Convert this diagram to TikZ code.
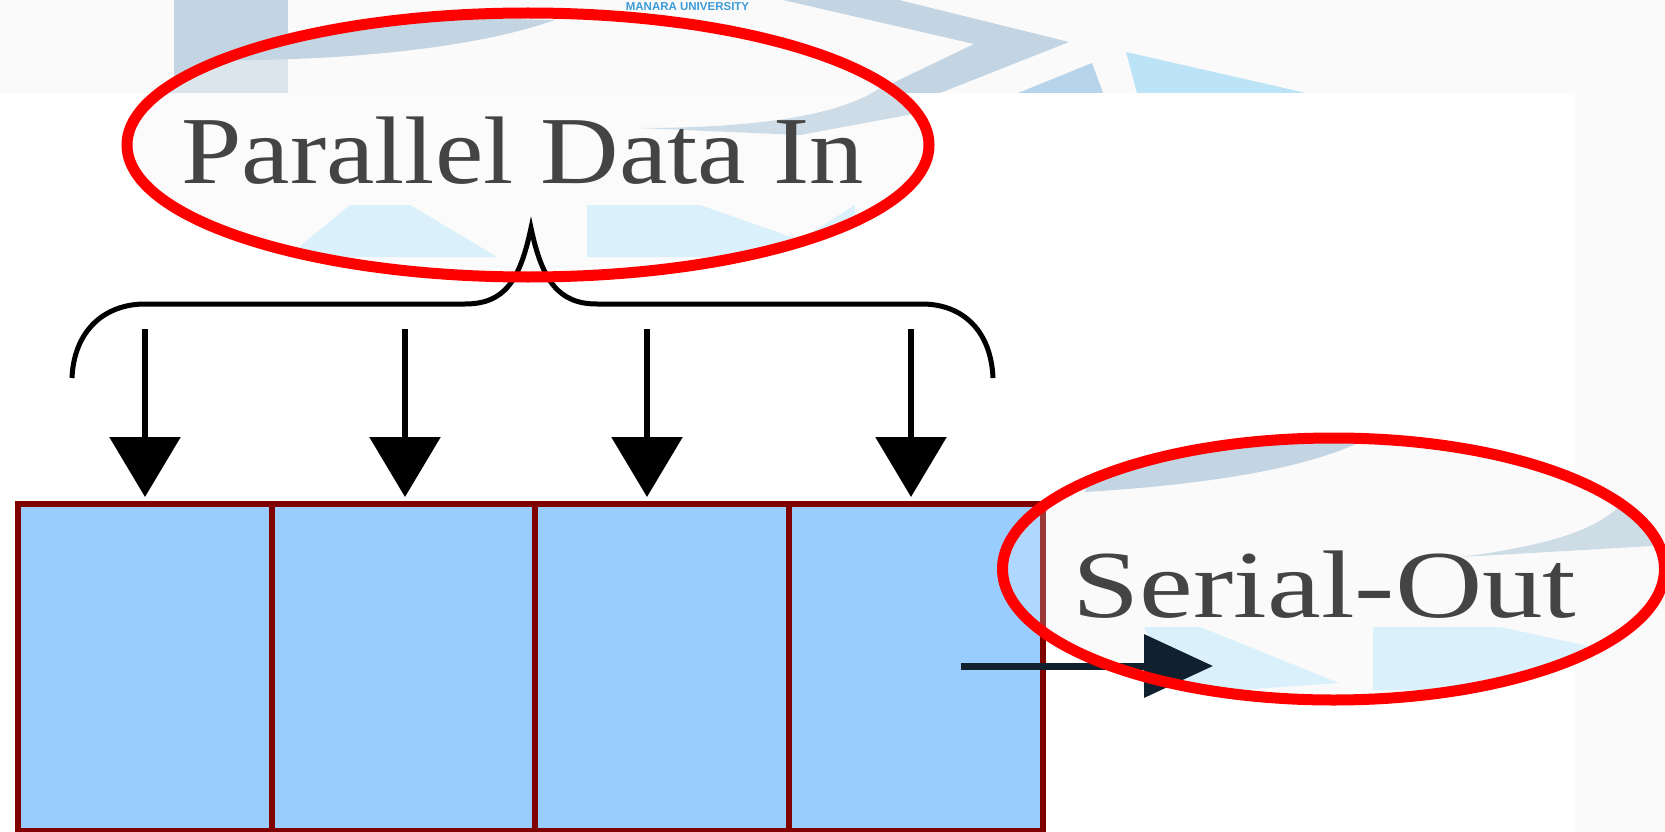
\documentclass[tikz,border=0pt]{standalone}
\usepackage{fontspec}
\setmainfont{Liberation Serif}
\newfontfamily\logofont{Liberation Sans}
\usetikzlibrary{arrows.meta,shapes.geometric}
\definecolor{bandgray}{HTML}{FAFAFA}
\definecolor{logoblue}{HTML}{C3D5E2}
\definecolor{logomid}{HTML}{B8D4EA}
\definecolor{logosky}{HTML}{BCE4F6}
\definecolor{logotext}{HTML}{3C9BD9}
\definecolor{inkgray}{HTML}{444444}
\definecolor{cellblue}{HTML}{99CCFF}
\definecolor{cellline}{HTML}{800000}
\definecolor{serialink}{HTML}{10202F}
\tikzset{
  x=1pt,y=-1pt,
  cellbox/.style={draw=cellline,line width=6.5pt,fill=cellblue,rectangle,minimum height=327pt,inner sep=0pt,outer sep=0pt},
  ring/.style={draw=red,line width=11pt,ellipse,inner sep=0pt,outer sep=0pt},
  caption/.style={text=inkgray,font=\fontsize{96}{96}\selectfont,anchor=base,inner sep=0pt},
  drop/.style={draw=black,line width=6pt,-{Triangle[length=60pt,width=70pt]}},
  brace/.style={draw=black,line width=5pt,line cap=butt},
  serial/.style={draw=serialink,line width=7pt,-{Triangle[length=69pt,width=62pt]}},
  pale/.style={fill=logosky!55!white}
}
\begin{document}
\begin{tikzpicture}
\useasboundingbox (0,0) rectangle (1665,832);
% page background
\fill[white] (0,0) rectangle (1665,832);
\fill[bandgray] (0,0) rectangle (1665,93);
\fill[bandgray] (1575,93) rectangle (1665,832);
% watermark pieces in the top band
\fill[logoblue] (174,0) rectangle (288,93);
\fill[logoblue] (783,0) -- (899,0) -- (1069,42) -- (940,93) -- (872,93) -- (974,44) -- cycle;
\fill[logomid] (1092,63) -- (1103,93) -- (1018,93) -- cycle;
\fill[logosky] (1126,52) -- (1306,93) -- (1137,93) -- cycle;
\node[inner sep=0pt,anchor=center,text=logotext] (brand) at (687.5,7)
  {\logofont\bfseries\fontsize{11.5}{12}\selectfont MANARA UNIVERSITY};
% register cells
\node[cellbox,minimum width=254pt] (c1) at (145,667.5) {};
\node[cellbox,minimum width=263pt] (c2) at (403.5,667.5) {};
\node[cellbox,minimum width=254pt] (c3) at (662,667.5) {};
\node[cellbox,minimum width=254pt] (c4) at (916,667.5) {};
% ellipse interiors
\begin{scope}
\clip (528,145) ellipse [x radius=401,y radius=132];
\fill[bandgray!70!white] (100,93) rectangle (960,300);
\fill[logoblue!50!white!95!gray] (100,0) rectangle (960,93);
\fill[bandgray] (288,0) rectangle (960,93);
\fill[logoblue] (200,60) .. controls (330,62) and (470,50) .. (555,20) -- (200,12) -- cycle;
\fill[logoblue,opacity=.8] (638,128) .. controls (760,128) and (860,115) .. (895,75) -- (935,110) -- (800,135) -- cycle;
\fill[pale] (287,257) -- (350,205) -- (410,205) -- (497,257) -- cycle;
\fill[pale] (587,257) -- (587,205) -- (700,205) -- (800,240) -- (855,205) -- (855,225) -- (760,257) -- cycle;
\end{scope}
\begin{scope}
\clip (1333.5,569) ellipse [x radius=331,y radius=131];
\fill[bandgray] (1046,430) rectangle (1670,710);
\fill[white,opacity=.22] (998,430) rectangle (1046,710);
\fill[logoblue] (1085,492) .. controls (1200,485) and (1300,470) .. (1358,443) -- (1100,430) -- cycle;
\fill[logoblue,opacity=.8] (1461,557) .. controls (1550,545) and (1600,530) .. (1625,500) -- (1670,520) -- (1670,545) -- cycle;
\fill[pale] (1144,627) -- (1200,627) -- (1339,683) -- (1240,690) -- (1170,680) -- cycle;
\fill[pale] (1373,627) -- (1500,627) -- (1607,650) -- (1500,690) -- (1373,690) -- cycle;
\end{scope}
% parallel input arrows
\coordinate (a1) at (145,329);
\coordinate (a2) at (405,329);
\coordinate (a3) at (647,329);
\coordinate (a4) at (911,329);
\draw[drop,shorten >=7pt] (a1) -- (a1 |- c1.north);
\draw[drop,shorten >=7pt] (a2) -- (a2 |- c2.north);
\draw[drop,shorten >=7pt] (a3) -- (a3 |- c3.north);
\draw[drop,shorten >=7pt] (a4) -- (a4 |- c4.north);
% brace
\coordinate (bl) at (72,378);
\coordinate (bp) at (531,228);
\coordinate (br) at (993,378);
\draw[brace] (bl) .. controls (74,330) and (105,304) .. (145,304) -- (465,304)
  .. controls (505,304) and (520,280) .. (bp)
  .. controls (542,280) and (558,304) .. (597,304) -- (922,304)
  .. controls (962,304) and (991,330) .. (br);
% serial output arrow
\coordinate (so) at (1213,666);
\draw[serial] (961,666) -- (so);
% ellipses and their texts
\node[ring,minimum width=802pt,minimum height=264pt] (e1) at (528,145) {};
\node[ring,minimum width=662pt,minimum height=262pt] (e2) at (1333.5,569) {};
\node[caption,xscale=1.133] (t1) at (522.5,183) {Parallel Data In};
\node[caption,xscale=1.26] (t2) at (1324.5,617) {Serial-Out};
\end{tikzpicture}
\end{document}
